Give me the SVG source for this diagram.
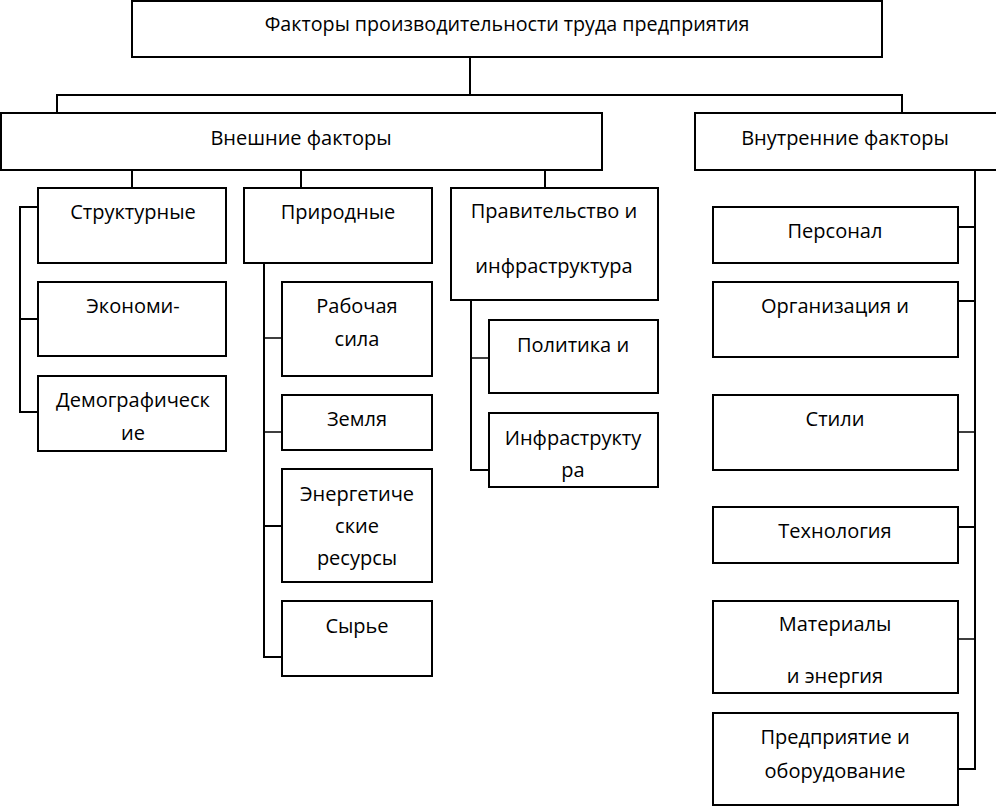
<svg xmlns="http://www.w3.org/2000/svg" width="996" height="808" viewBox="0 0 996 808">
<style>
.b{fill:#fff;stroke:#000;stroke-width:2}
.t{font-family:"Open Sans","Liberation Sans",sans-serif;font-size:20px;fill:#000;text-anchor:middle}
.c{fill:none;stroke:#000;stroke-width:2}
.c1{fill:none;stroke:#000;stroke-width:1.5}
</style>
<rect width="996" height="808" fill="#fff"/>
<g id="connectors">
<path class="c" d="M470,57V95M57,113V95H902V113"/>
<path class="c" d="M132,170V188M301,170V188M545,170V188"/>
<path class="c" d="M38,207H20V412H38M20,319H38"/>
<path class="c" d="M264,263V657H282"/>
<path class="c1" d="M264,338H282M264,432H282"/>
<path class="c" d="M264,526H282"/>
<path class="c" d="M471,300V470H489"/>
<path class="c1" d="M471,358H489"/>
<path class="c" d="M975,170V769H958M958,227H975M958,301H975M958,527H975"/>
<path class="c1" d="M958,432H975M958,639H975"/>
</g>
<g id="root"><rect class="b" x="132" y="1" width="750" height="56"/><text class="t" x="507" y="31" style="font-size:19.7px">Факторы производительности труда предприятия</text></g>
<g id="external"><rect class="b" x="1" y="113" width="601" height="57"/><text class="t" x="301" y="145">Внешние факторы</text></g>
<g id="internal"><rect class="b" x="695" y="113" width="303" height="57"/><text class="t" x="845" y="145">Внутренние факторы</text></g>
<g id="structural"><rect class="b" x="38" y="188" width="188" height="75"/><text class="t" x="133" y="219">Структурные</text></g>
<g id="economic"><rect class="b" x="38" y="282" width="188" height="74"/><text class="t" x="133" y="313">Экономи-</text></g>
<g id="demographic"><rect class="b" x="38" y="376" width="188" height="75"/><text class="t" x="133" y="407">Демографическ</text><text class="t" x="133" y="440">ие</text></g>
<g id="natural"><rect class="b" x="244" y="188" width="188" height="75"/><text class="t" x="338" y="219">Природные</text></g>
<g id="labor"><rect class="b" x="282" y="282" width="150" height="94"/><text class="t" x="357" y="313">Рабочая</text><text class="t" x="357" y="346">сила</text></g>
<g id="land"><rect class="b" x="282" y="395" width="150" height="55"/><text class="t" x="357" y="426">Земля</text></g>
<g id="energy"><rect class="b" x="282" y="469" width="150" height="113"/><text class="t" x="357" y="501">Энергетиче</text><text class="t" x="357" y="533">ские</text><text class="t" x="357" y="565">ресурсы</text></g>
<g id="raw"><rect class="b" x="282" y="601" width="150" height="75"/><text class="t" x="357" y="633">Сырье</text></g>
<g id="government"><rect class="b" x="451" y="188" width="207" height="112"/><text class="t" x="554" y="218">Правительство и</text><text class="t" x="554" y="273">инфраструктура</text></g>
<g id="policy"><rect class="b" x="489" y="320" width="169" height="73"/><text class="t" x="573" y="352">Политика и</text></g>
<g id="infrastructure"><rect class="b" x="489" y="413" width="169" height="74"/><text class="t" x="573" y="445">Инфраструкту</text><text class="t" x="573" y="477">ра</text></g>
<g id="personnel"><rect class="b" x="713" y="207" width="245" height="56"/><text class="t" x="835" y="238">Персонал</text></g>
<g id="organization"><rect class="b" x="713" y="282" width="245" height="75"/><text class="t" x="835" y="313">Организация и</text></g>
<g id="styles"><rect class="b" x="713" y="395" width="245" height="75"/><text class="t" x="835" y="426">Стили</text></g>
<g id="technology"><rect class="b" x="713" y="507" width="245" height="56"/><text class="t" x="835" y="538">Технология</text></g>
<g id="materials"><rect class="b" x="713" y="601" width="245" height="92"/><text class="t" x="835" y="631">Материалы</text><text class="t" x="835" y="683">и энергия</text></g>
<g id="plant"><rect class="b" x="713" y="713" width="245" height="92"/><text class="t" x="835" y="744">Предприятие и</text><text class="t" x="835" y="778">оборудование</text></g>
</svg>
